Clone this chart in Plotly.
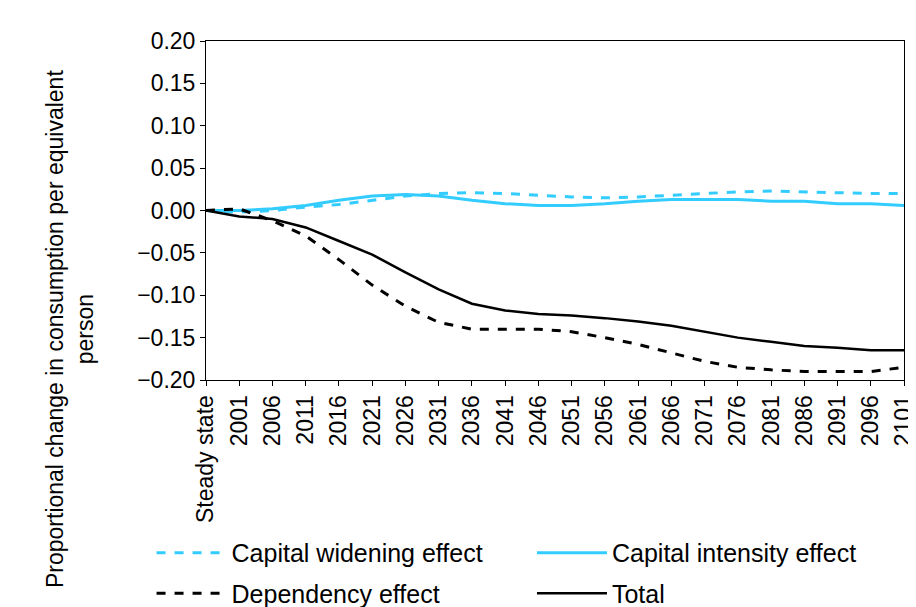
import plotly.graph_objects as go

categories = ["Steady state"] + [str(y) for y in range(2001, 2102, 5)]
widening = [0, -0.002, 0.0, 0.004, 0.007, 0.012, 0.017, 0.020, 0.021, 0.020, 0.018, 0.016, 0.015, 0.016, 0.018, 0.020, 0.022, 0.023, 0.022, 0.021, 0.020, 0.020]
intensity = [0, 0.000, 0.002, 0.006, 0.012, 0.017, 0.019, 0.017, 0.012, 0.008, 0.006, 0.006, 0.008, 0.011, 0.013, 0.013, 0.013, 0.011, 0.011, 0.008, 0.008, 0.006]
dependency = [0, 0.002, -0.012, -0.030, -0.058, -0.088, -0.113, -0.132, -0.140, -0.140, -0.140, -0.143, -0.150, -0.158, -0.168, -0.178, -0.185, -0.188, -0.190, -0.190, -0.190, -0.185]
total = [0, -0.007, -0.010, -0.020, -0.036, -0.052, -0.073, -0.093, -0.110, -0.118, -0.122, -0.124, -0.127, -0.131, -0.136, -0.143, -0.150, -0.155, -0.160, -0.162, -0.165, -0.165]

x = list(range(len(categories)))
cyan = "#33CCFF"
fig = go.Figure()
fig.add_trace(go.Scatter(x=x, y=widening, name="Capital widening effect", mode="lines", legend="legend2", line=dict(color=cyan, width=3, dash="dash")))
fig.add_trace(go.Scatter(x=x, y=intensity, name="Capital intensity effect", mode="lines", legend="legend3", line=dict(color=cyan, width=3)))
fig.add_trace(go.Scatter(x=x, y=dependency, name="Dependency effect", mode="lines", legend="legend4", line=dict(color="black", width=3, dash="dash")))
fig.add_trace(go.Scatter(x=x, y=total, name="Total", mode="lines", legend="legend5", line=dict(color="black", width=2.5)))

font = dict(family="Liberation Sans, Arial", size=23, color="black")
lfont = dict(family="Liberation Sans, Arial", size=25, color="black")
leg = dict(xanchor="left", yanchor="middle", font=lfont, itemwidth=70, bgcolor="rgba(0,0,0,0)")
fig.update_layout(
    width=916, height=607, paper_bgcolor="white", plot_bgcolor="white",
    margin=dict(l=198, r=20, t=33, b=235, autoexpand=False), font=font, showlegend=True,
    xaxis=dict(tickmode="array", tickvals=x, ticktext=categories, tickangle=-90, automargin=False,
               range=[0, len(x) - 1], showline=True, linecolor="black", mirror=True,
               ticks="outside", ticklen=5, tickcolor="black", showgrid=False, zeroline=False),
    yaxis=dict(range=[-0.2, 0.2], dtick=0.05, tickformat=".2f", showline=True, linecolor="black", automargin=False,
               mirror=True, ticks="outside", ticklen=5, tickcolor="black", showgrid=False, zeroline=False),
    legend=dict(visible=False),
    legend2=dict(leg, x=-0.078, y=-0.51),
    legend3=dict(leg, x=0.467, y=-0.51),
    legend4=dict(leg, x=-0.078, y=-0.63),
    legend5=dict(leg, x=0.467, y=-0.63),
    annotations=[dict(text="Proportional change in consumption per equivalent<br>person", textangle=-90,
                      xref="paper", yref="paper", x=-0.195, y=0.15, xanchor="center", yanchor="middle",
                      showarrow=False, font=font)],
)
fig.write_html("out.html")
